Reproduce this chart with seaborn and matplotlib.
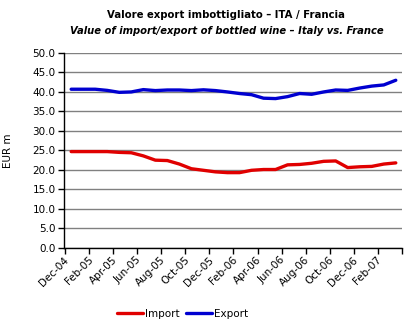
import matplotlib
matplotlib.use("Agg")
import matplotlib.pyplot as plt
import seaborn as sns
import pandas as pd
import numpy as np
from matplotlib.ticker import FixedLocator, FormatStrFormatter

months = ["Dec-04", "Jan-05", "Feb-05", "Mar-05", "Apr-05", "May-05", "Jun-05", "Jul-05",
          "Aug-05", "Sep-05", "Oct-05", "Nov-05", "Dec-05", "Jan-06", "Feb-06", "Mar-06",
          "Apr-06", "May-06", "Jun-06", "Jul-06", "Aug-06", "Sep-06", "Oct-06", "Nov-06",
          "Dec-06", "Jan-07", "Feb-07", "Mar-07"]
import_vals = [24.7, 24.7, 24.7, 24.7, 24.5, 24.4, 23.6, 22.5, 22.4, 21.5, 20.3, 19.9,
               19.5, 19.3, 19.3, 19.9, 20.1, 20.1, 21.3, 21.4, 21.7, 22.2, 22.3, 20.6,
               20.8, 20.9, 21.5, 21.8]
export_vals = [40.7, 40.7, 40.7, 40.4, 39.9, 40.0, 40.6, 40.35, 40.5, 40.5, 40.35, 40.55,
               40.35, 40.0, 39.6, 39.3, 38.4, 38.3, 38.8, 39.6, 39.4, 40.0, 40.5, 40.4,
               41.0, 41.5, 41.8, 43.0]
series_names = ["Import", "Export"]
yticks = [0, 5, 10, 15, 20, 25, 30, 35, 40, 45, 50]

idx = np.arange(len(months))
df = pd.DataFrame({
    "idx": np.concatenate([idx, idx]),
    "value": import_vals + export_vals,
    "series": [series_names[0]] * len(months) + [series_names[1]] * len(months),
})

sns.set_theme(style="white")
plt.rcParams["font.family"] = ["DejaVu Sans"]
plt.rcParams["text.color"] = "black"
plt.rcParams["axes.labelcolor"] = "black"
plt.rcParams["xtick.color"] = "black"
plt.rcParams["ytick.color"] = "black"

fig = plt.figure(figsize=(4.10, 3.27), dpi=100)
ax = fig.add_axes([0.156, 0.242, 0.824, 0.596])

sns.lineplot(data=df, x="idx", y="value", hue="series",
             palette={"Import": "#E00000", "Export": "#0000D0"},
             linewidth=2.4, ax=ax, legend=False)

ax.set_xlim(-0.5, len(months) - 0.5)
ax.set_ylim(0, 50)
ax.yaxis.set_major_locator(FixedLocator(yticks))
ax.yaxis.set_major_formatter(FormatStrFormatter("%.1f"))
ax.grid(axis="y", color="#808080", linewidth=1)
ax.set_axisbelow(True)

major = list(range(0, len(months), 2))
ax.set_xticks([i - 0.6 for i in major])
ax.set_xticklabels([months[i] for i in major], rotation=45, ha="right",
                   rotation_mode="anchor", fontsize=7.5)
ax.set_xticks([i - 0.5 for i in range(0, len(months) + 1, 2)], minor=True)
ax.tick_params(axis="x", which="major", length=0, pad=5)
ax.tick_params(axis="x", which="minor", length=4, width=1, color="black", direction="out")
ax.tick_params(axis="y", length=4, width=1, color="black", direction="out", labelsize=7.5, pad=2)
ax.tick_params(axis="both", which="both", bottom=True, left=True)

for s in ["top", "right"]:
    ax.spines[s].set_visible(False)
for s in ["left", "bottom"]:
    ax.spines[s].set_color("black")
    ax.spines[s].set_linewidth(1)

ax.set_xlabel("")
ax.set_ylabel("EUR m", fontsize=7.5, labelpad=14)

fig.text(0.55, 0.955, "Valore export imbottigliato – ITA / Francia", ha="center",
         va="center", fontsize=7.3, fontweight="bold")
fig.text(0.552, 0.905, "Value of import/export of bottled wine – Italy vs. France", ha="center",
         va="center", fontsize=7.2, fontweight="bold", style="italic")

from matplotlib.lines import Line2D
handles = [Line2D([], [], color="#E00000", linewidth=2.4),
           Line2D([], [], color="#0000D0", linewidth=2.4)]
fig.legend(handles, series_names, loc="center", bbox_to_anchor=(0.445, 0.04), ncol=2,
           frameon=False, fontsize=7.5, handlelength=2.5, handletextpad=0.2,
           columnspacing=0.6)

fig.savefig("out.png", dpi=100)
